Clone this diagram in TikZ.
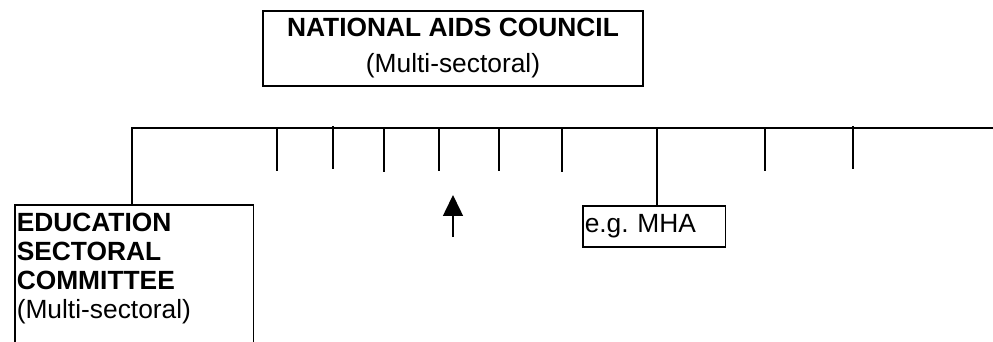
\documentclass[tikz,border=0pt]{standalone}
\usepackage{fontspec}
\setmainfont{Liberation Sans}
\usetikzlibrary{arrows.meta,positioning,calc}

\begin{document}
\begin{tikzpicture}[x=0.016cm, y=-0.016cm,
  unit/.style={draw, line width=0.7pt, inner xsep=0.032cm, font=\fontsize{12}{13.2}\selectfont},
  link/.style={line width=0.7pt},
  up/.style={-{Triangle[length=0.336cm, width=0.32cm]}, line width=0.7pt}]
\clip (0,0) rectangle (993,342);
\node[unit, minimum width=6.08cm, minimum height=1.2cm, align=center, font=\fontsize{12}{16.4}\selectfont] (nac) at (453,48.5) {\textbf{NATIONAL AIDS COUNCIL}\\(Multi-sectoral)};
\node[unit, anchor=north west, inner ysep=0.128cm, text width=3.76cm, align=left, text depth=2cm] (edu) at (14,204) {\textbf{EDUCATION}\\\textbf{SECTORAL}\\\textbf{COMMITTEE}\\(Multi-sectoral)};
\node[unit, anchor=west, minimum height=0.656cm, text width=2.224cm, align=left] (mha) at (582,226.5) {e.g.\ MHA};

% sector bus
\coordinate (busL) at (132,128);
\coordinate (busR) at (993,128);
\draw[link] (edu.north -| busL) -- (busL) -- (busR);
\coordinate (mhaTap) at (657,128);
\draw[link] (mhaTap) -- (mhaTap |- mha.north);

% open branches
\draw[link] (277,128) -- (277,171);
\draw[link] (333,126) -- (333,169);
\draw[link] (384,128) -- (384,172);
\draw[link] (439,128) -- (439,171);
\draw[link] (499,128) -- (499,171);
\draw[link] (562,128) -- (562,172);
\draw[link] (765,128) -- (765,171);
\draw[link] (853,126) -- (853,169);

\coordinate (arrTail) at (453,237);
\coordinate (arrTip) at (453,195);
\draw[up] (arrTail) -- (arrTip);
\end{tikzpicture}
\end{document}
